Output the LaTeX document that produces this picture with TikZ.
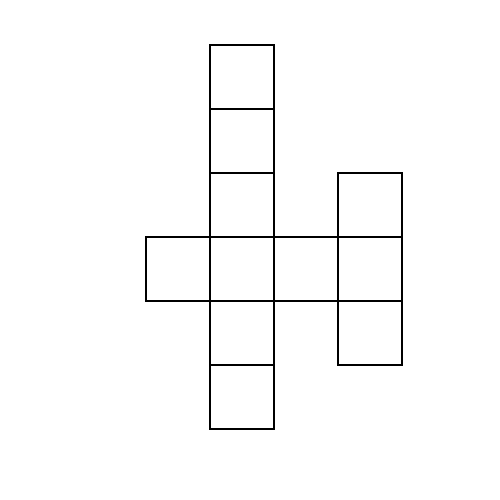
\documentclass[tikz,border=0pt]{standalone}
\usepackage{tikz}

\begin{document}
\begin{tikzpicture}
		%%%%% START %%%%%
		
		\useasboundingbox[fill=white] (-2.28125, -1.109375) rectangle (5.53125, 6.703125);
		
		% middle column
		\draw[line width=1pt] (1, 5) rectangle (2, 6);
		\draw[line width=1pt] (1, 4) rectangle (2, 5);
		\draw[line width=1pt] (1, 3) rectangle (2, 4);
		\draw[line width=1pt] (1, 2) rectangle (2, 3);
		\draw[line width=1pt] (1, 1) rectangle (2, 2);
		\draw[line width=1pt] (1, 0) rectangle (2, 1);
		
		% the row across
		\draw[line width=1pt] (0, 2) rectangle (1, 3);
		\draw[line width=1pt] (2, 2) rectangle (3, 3);
		
		% right column
		\draw[line width=1pt] (3, 3) rectangle (4, 4);
		\draw[line width=1pt] (3, 2) rectangle (4, 3);
		\draw[line width=1pt] (3, 1) rectangle (4, 2);
		
		%%%%% END %%%%%
	\end{tikzpicture}
\end{document}
